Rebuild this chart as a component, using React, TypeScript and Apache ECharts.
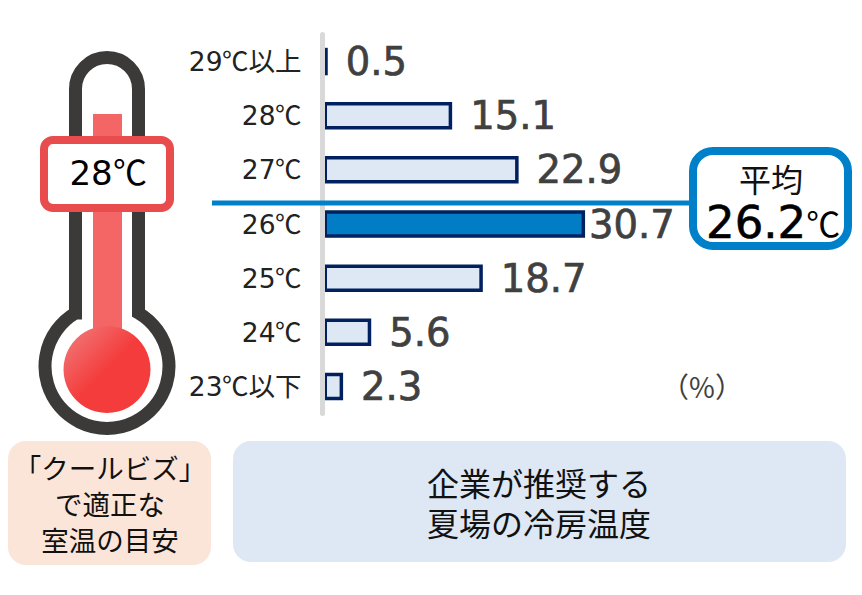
import React, { useEffect, useRef } from "react";
import * as echarts from "echarts";

const categories = ["29℃以上", "28℃", "27℃", "26℃", "25℃", "24℃", "23℃以下"];
const shares = [0.5, 15.1, 22.9, 30.7, 18.7, 5.6, 2.3];
const highlighted = "26℃";
const unitLabel = "（%）";
const averageTitle = "平均";
const averageValue = "26.2";
const averageUnit = "℃";
const thermoLabel = "28℃";
const leftCaption = ["「クールビズ」", "で適正な", "室温の目安"];
const rightCaption = ["企業が推奨する", "夏場の冷房温度"];

const FONT = '"CelsiusCJK","DejaVu Sans","Noto Sans CJK JP",sans-serif';
const CJK = '"Noto Sans CJK JP",sans-serif';
const FONT_FACE =
  '@font-face{font-family:"CelsiusCJK";src:local("Noto Sans CJK JP"),local("NotoSansCJKjp-Regular");unicode-range:U+2103;}';
const THERMO =
  "M75.5 313 L75.5 89 A31.5 31.5 0 0 1 138.5 89 L138.5 313 A62 62 0 1 1 75.5 313 Z";

echarts.graphic.registerShape("thermoOutline", echarts.graphic.extendPath(THERMO, {}));

const captionText = (lines: string[], cx: number, cy: number, step: number, size: number) => ({
  type: "text",
  z: 20,
  x: cx,
  y: cy,
  style: {
    text: lines.join("\n"),
    fill: "#111111",
    font: `${size}px ${CJK}`,
    lineHeight: step,
    align: "center",
    verticalAlign: "middle",
  },
});

export default function App() {
  const ref = useRef<HTMLDivElement>(null);
  useEffect(() => {
    const chart = echarts.init(ref.current!, undefined, { renderer: "svg" });
    chart.setOption({
      animation: false,
      backgroundColor: "#ffffff",
      grid: { left: 323.5, top: 34.5, width: 511.2, height: 379 },
      xAxis: { type: "value", min: 0, max: 60, show: false },
      yAxis: {
        type: "category",
        inverse: true,
        data: categories,
        z: 5,
        offset: 1,
        axisTick: { show: false },
        axisLine: { onZero: false, lineStyle: { color: "#D9D9D9", width: 5 } },
        axisLabel: {
          color: "#222222",
          fontSize: 26.5,
          fontFamily: FONT,
          margin: 21,
        },
      },
      series: [
        {
          type: "bar",
          barWidth: 27.5,
          data: shares.map((value, i) => {
            const hi = categories[i] === highlighted;
            return {
              value,
              itemStyle: { color: hi ? "#007DC5" : "#DEE8F4" },
              label: { distance: hi ? 4 : 18 },
            };
          }),
          itemStyle: { borderColor: "#002060", borderWidth: 3.5 },
          label: {
            show: true,
            position: "right",
            color: "#404040",
            fontSize: 38.5,
            textBorderColor: "#404040",
            textBorderWidth: 0.7,
            fontFamily: FONT,
            formatter: (p: any) => Number(p.value).toFixed(1),
          },
        },
      ],
      graphic: [
        {
          type: "text",
          x: 702,
          y: 386,
          z: 20,
          style: {
            text: unitLabel,
            fill: "#404040",
            font: `28px ${CJK}`,
            align: "center",
            verticalAlign: "middle",
          },
        },
        {
          type: "line",
          z: 15,
          shape: { x1: 212, y1: 203, x2: 695, y2: 203 },
          style: { stroke: "#0080C8", lineWidth: 5 },
        },
        {
          type: "rect",
          z: 16,
          shape: { x: 693, y: 151, width: 155, height: 95, r: 20 },
          style: { fill: "#ffffff", stroke: "#0080C8", lineWidth: 8 },
        },
        {
          type: "text",
          z: 20,
          x: 771,
          y: 178,
          style: {
            text: averageTitle,
            fill: "#111111",
            font: `32px ${CJK}`,
            lineHeight: 34,
            align: "center",
            verticalAlign: "middle",
          },
        },
        {
          type: "text",
          z: 20,
          x: 706,
          y: 222,
          style: {
            text: `{a|${averageValue}}{b|${averageUnit}}`,
            align: "left",
            verticalAlign: "middle",
            rich: {
              a: { font: `45px "DejaVu Sans"`, fill: "#000000", stroke: "#000000", lineWidth: 0.6 },
              b: { font: `34px ${CJK}`, fill: "#000000" },
            },
          },
        },
        {
          type: "thermoOutline",
          z: 10,
          x: 0,
          y: 0,
          style: { fill: "#ffffff", stroke: "#3C3A38", lineWidth: 13 },
        },
        {
          type: "rect",
          z: 11,
          shape: { x: 93, y: 114, width: 29, height: 230 },
          style: { fill: "#F46666" },
        },
        {
          type: "circle",
          z: 12,
          shape: { cx: 107, cy: 369.5, r: 43.5 },
          style: {
            fill: new echarts.graphic.LinearGradient(0, 0, 1, 1, [
              { offset: 0, color: "#F08080" },
              { offset: 0.5, color: "#F53C3C" },
              { offset: 1, color: "#F53C3C" },
            ]),
          },
        },
        {
          type: "rect",
          z: 13,
          shape: { x: 44, y: 140, width: 126, height: 68, r: 9 },
          style: { fill: "#ffffff", stroke: "#E84C4C", lineWidth: 8 },
        },
        {
          type: "text",
          z: 20,
          x: 108,
          y: 173,
          style: {
            text: thermoLabel,
            fill: "#000000",
            font: `34px ${FONT}`,
            align: "center",
            verticalAlign: "middle",
          },
        },
        {
          type: "rect",
          z: 1,
          shape: { x: 8, y: 441, width: 203, height: 124, r: 18 },
          style: { fill: "#FBE5D9" },
        },
        {
          type: "rect",
          z: 1,
          shape: { x: 233, y: 441, width: 613, height: 121, r: 18 },
          style: { fill: "#DEE8F4" },
        },
        captionText(leftCaption, 110, 503, 36, 27.5),
        captionText(rightCaption, 539, 502, 40, 32),
      ],
    });
    return () => chart.dispose();
  }, []);
  return (
    <>
      <style>{FONT_FACE}</style>
      <div
        ref={ref}
        style={{ position: "absolute", left: 0, top: 0, width: 862, height: 595 }}
      />
    </>
  );
}
